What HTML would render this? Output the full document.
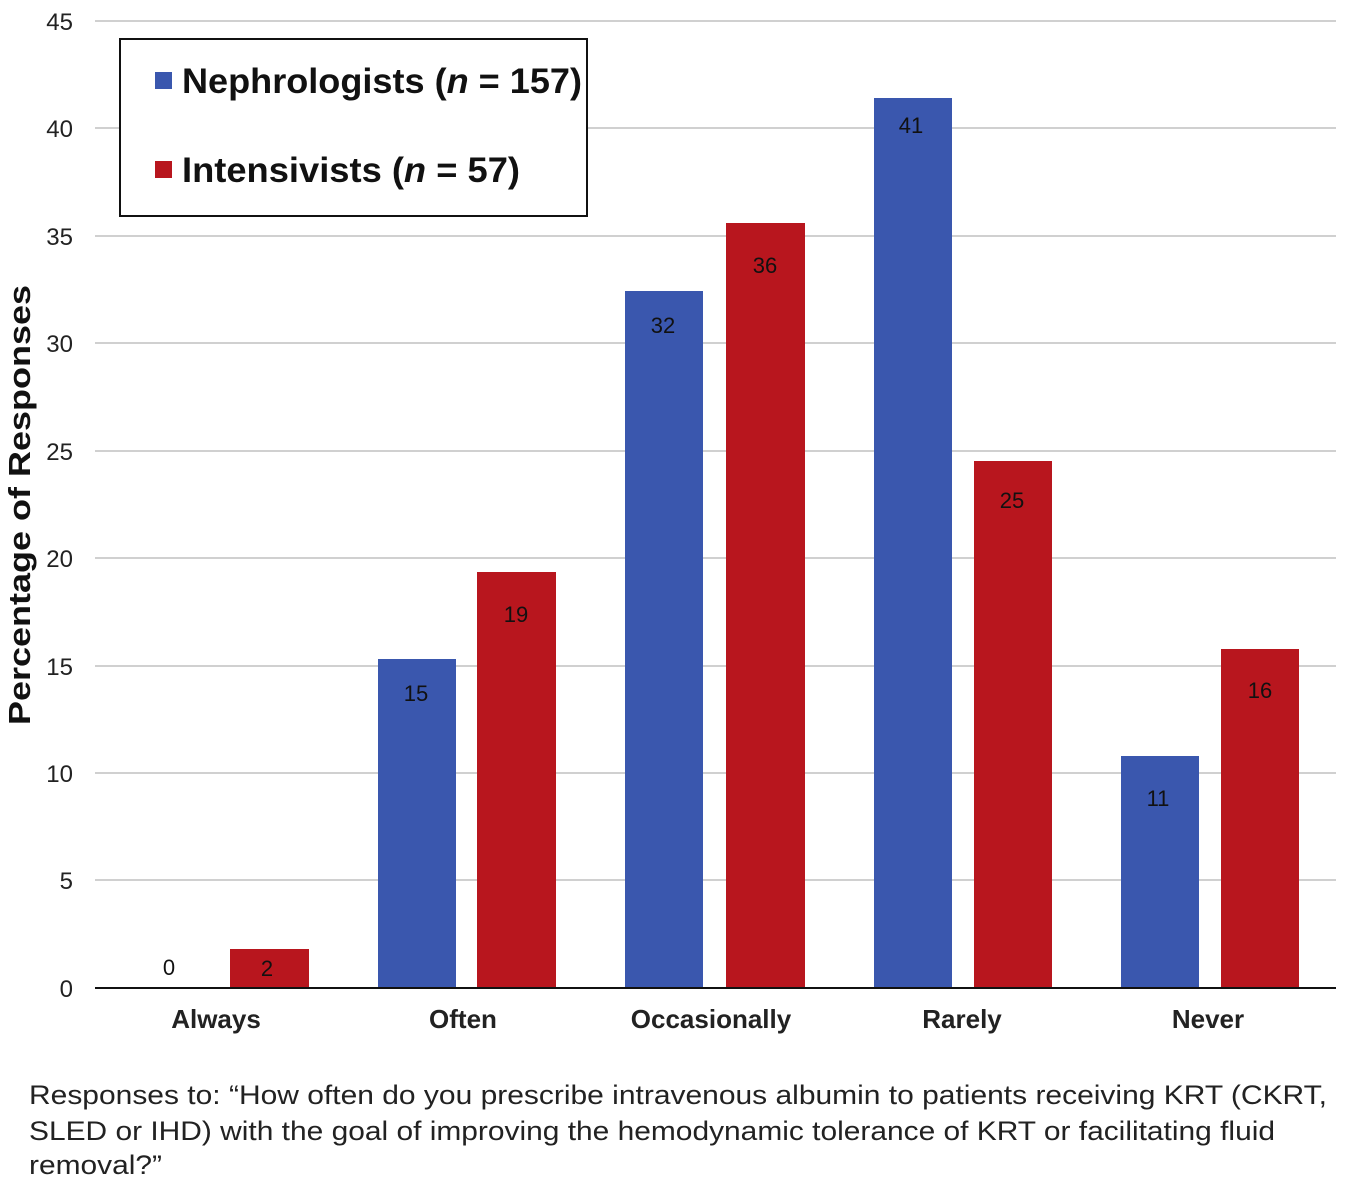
<!DOCTYPE html>
<html><head><style>
body{margin:0;background:#fff;}
svg{display:block;font-family:"Liberation Sans",Arial,sans-serif;}
</style></head><body>
<svg width="1345" height="1191" viewBox="0 0 1345 1191" xmlns="http://www.w3.org/2000/svg">
<g stroke="#d0d0d0" stroke-width="2">
<line x1="95" x2="1336" y1="21" y2="21"/>
<line x1="95" x2="1336" y1="128" y2="128"/>
<line x1="95" x2="1336" y1="236" y2="236"/>
<line x1="95" x2="1336" y1="343" y2="343"/>
<line x1="95" x2="1336" y1="451" y2="451"/>
<line x1="95" x2="1336" y1="558" y2="558"/>
<line x1="95" x2="1336" y1="666" y2="666"/>
<line x1="95" x2="1336" y1="773" y2="773"/>
<line x1="95" x2="1336" y1="880" y2="880"/>
</g>
<g font-size="24" fill="#222" text-anchor="end">
<text x="73" y="30">45</text><text x="73" y="137">40</text><text x="73" y="245">35</text>
<text x="73" y="352">30</text><text x="73" y="460">25</text><text x="73" y="567">20</text>
<text x="73" y="675">15</text><text x="73" y="782">10</text><text x="73" y="889">5</text>
<text x="73" y="997">0</text>
</g>
<text transform="translate(30,725) rotate(-90)" font-size="31" font-weight="bold" fill="#111" textLength="440" lengthAdjust="spacingAndGlyphs">Percentage of Responses</text>
<g fill="#3a57ae">
<rect x="378" y="659" width="78" height="329"/>
<rect x="625" y="291" width="78" height="697"/>
<rect x="874" y="98" width="78" height="890"/>
<rect x="1121" y="756" width="78" height="232"/>
</g>
<g fill="#b8161e">
<rect x="230" y="949" width="79" height="39"/>
<rect x="477" y="572" width="79" height="416"/>
<rect x="726" y="223" width="79" height="765"/>
<rect x="974" y="461" width="78" height="527"/>
<rect x="1221" y="649" width="78" height="339"/>
</g>
<line x1="95" x2="1336" y1="988" y2="988" stroke="#111" stroke-width="2"/>
<g font-size="22" fill="#111" text-anchor="middle">
<text x="169" y="975">0</text><text x="267" y="976">2</text>
<text x="416" y="701">15</text><text x="516" y="622">19</text>
<text x="663" y="333">32</text><text x="765" y="273">36</text>
<text x="911" y="133">41</text><text x="1012" y="508">25</text>
<text x="1158" y="806">11</text><text x="1260" y="698">16</text>
</g>
<g font-size="26" font-weight="bold" fill="#222" text-anchor="middle">
<text x="216" y="1028">Always</text><text x="463" y="1028">Often</text>
<text x="711" y="1028">Occasionally</text><text x="962" y="1028">Rarely</text>
<text x="1208" y="1028">Never</text>
</g>
<rect x="120" y="39" width="467" height="177" fill="#fff" stroke="#111" stroke-width="2"/>
<rect x="155" y="72" width="17" height="17" fill="#3a57ae"/>
<rect x="155" y="161" width="17" height="17" fill="#b8161e"/>
<g font-size="35" font-weight="bold" fill="#111">
<text x="182" y="93" textLength="400" lengthAdjust="spacingAndGlyphs">Nephrologists (<tspan font-style="italic">n</tspan> = 157)</text>
<text x="182" y="182" textLength="338" lengthAdjust="spacingAndGlyphs">Intensivists (<tspan font-style="italic">n</tspan> = 57)</text>
</g>
<g font-size="27" fill="#222">
<text x="29" y="1104" textLength="1298" lengthAdjust="spacingAndGlyphs">Responses to: “How often do you prescribe intravenous albumin to patients receiving KRT (CKRT,</text>
<text x="29" y="1140" textLength="1246" lengthAdjust="spacingAndGlyphs">SLED or IHD) with the goal of improving the hemodynamic tolerance of KRT or facilitating fluid</text>
<text x="29" y="1174" textLength="133" lengthAdjust="spacingAndGlyphs">removal?”</text>
</g>
</svg>
</body></html>
